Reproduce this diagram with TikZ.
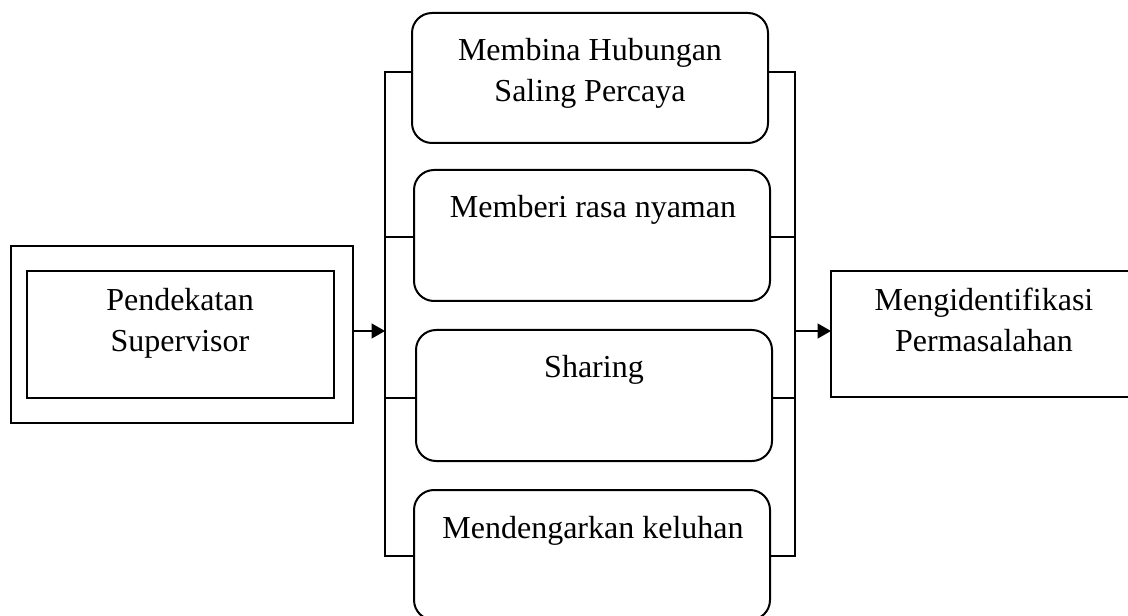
\documentclass[tikz,border=0pt]{standalone}
\usepackage{fontspec}
\setmainfont{Liberation Serif}
\usetikzlibrary{arrows.meta}
\begin{document}
\begin{tikzpicture}[x=0.75pt,y=-0.75pt,
  line width=1.5pt,
  sqbox/.style={draw, inner sep=0pt, outer sep=0pt},
  rbox/.style={draw, rounded corners=15pt, inner sep=0pt, outer sep=0pt, minimum width=267pt},
  txt/.style={font=\fontsize{24}{30.75}\selectfont, align=center, anchor=base, inner sep=0pt},
  arr/.style={-{Triangle[length=10pt,width=11pt]}}]
\useasboundingbox (0,0) rectangle (1128,616);
% left box
\node[sqbox, minimum width=256.5pt, minimum height=132.75pt] (outer) at (182,334.5) {};
\node[sqbox, minimum width=230.25pt, minimum height=95.25pt] (inner) at (180.5,334.5) {};
\node[txt] (tpend) at (180,352) {Pendekatan\\Supervisor};
% right box
\node[sqbox, minimum width=231.75pt, minimum height=94.5pt] (mbox) at (985.5,334) {};
\node[txt] (tmeng) at (984,352) {Mengidentifikasi\\Permasalahan};
% middle boxes
\node[rbox, minimum height=97.5pt] (b1) at (590,78) {};
\node[rbox, minimum height=98.25pt] (b2) at (592,235.5) {};
\node[rbox, minimum height=98.25pt] (b3) at (594,395.5) {};
\node[rbox, minimum height=97.5pt] (b4) at (592,555) {};
\node[txt] (t1) at (590,102) {Membina Hubungan\\Saling Percaya};
\node[txt] (t2) at (593,218) {Memberi rasa nyaman};
\node[txt] (t3) at (594,378) {Sharing};
\node[txt] (t4) at (593,538) {Mendengarkan keluhan};
% brackets
\coordinate (lt) at (385,72);
\coordinate (l2) at (385,237);
\coordinate (l3) at (385,398);
\coordinate (lb) at (385,556);
\coordinate (rt) at (795,72);
\coordinate (r2) at (795,237);
\coordinate (r3) at (795,398);
\coordinate (rb) at (795,556);
\coordinate (la) at (385,331);
\coordinate (ra) at (795,331);
\draw (b1.west |- lt) -- (lt) -- (lb) -- (b4.west |- lb);
\draw (l2) -- (b2.west |- l2);
\draw (l3) -- (b3.west |- l3);
\draw (b1.east |- rt) -- (rt) -- (rb) -- (b4.east |- rb);
\draw (r2) -- (b2.east |- r2);
\draw (r3) -- (b3.east |- r3);
% arrows
\draw[arr] (outer.east |- la) -- (la);
\draw[arr] (ra) -- (mbox.west |- ra);
\end{tikzpicture}
\end{document}
